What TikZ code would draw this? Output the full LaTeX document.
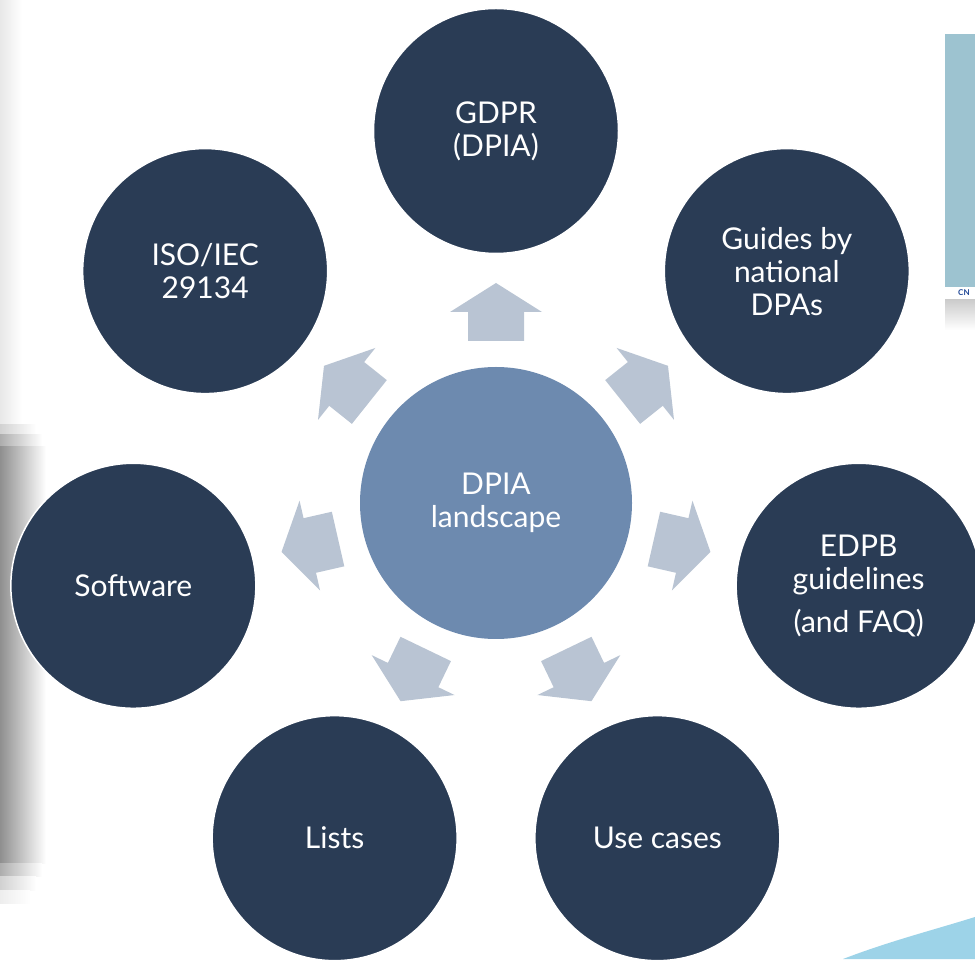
\documentclass[tikz,border=0pt]{standalone}
\usepackage{fontspec}
\setmainfont{Lato}
\usetikzlibrary{calc}
\definecolor{navy}{RGB}{42,60,85}
\definecolor{midblue}{RGB}{109,138,175}
\definecolor{arrowcol}{RGB}{185,196,211}
\definecolor{cardblue}{RGB}{157,195,208}
\definecolor{swooshblue}{RGB}{157,211,232}
\definecolor{cnilblue}{RGB}{30,70,150}
\begin{document}
\begin{tikzpicture}[x=1pt,y=1pt,
  outer/.style={circle, fill=navy, draw=white, line width=1.5pt, minimum size=245pt, inner sep=0pt, align=center, text=white, font=\fontsize{30}{33}\selectfont},
  hub/.style={circle, fill=midblue, minimum size=272pt, inner sep=0pt, align=center, text=white, font=\fontsize{30}{33}\selectfont},
  blockarrow/.style={fill=arrowcol}]
\useasboundingbox (0,0) rectangle (975,959);
% background remnants
\shade[left color=black!9, right color=white] (0,959) rectangle (22,534);
\shade[left color=black!18, right color=white] (0,534) rectangle (36,524);
\shade[left color=black!32, right color=white] (0,524) rectangle (42,512);
\shade[left color=black!44, right color=white] (0,512) rectangle (46,95);
\shade[left color=black!32, right color=white] (0,95) rectangle (42,82);
\shade[left color=black!18, right color=white] (0,82) rectangle (36,68);
\shade[left color=black!7, right color=white] (0,68) rectangle (30,55);
\fill[cardblue] (945,925) rectangle (975,672);
\shade[top color=black!20, bottom color=white] (945,659) rectangle (975,629);
\node[font=\bfseries\fontsize{8}{8}\selectfont, text=cnilblue, anchor=west, inner sep=0pt] (cnil) at (958,666) {CN};
\fill[swooshblue] (843,0) .. controls (890,18) and (930,28) .. (975,42) -- (975,0) -- cycle;
% hub
\node[hub] (dpia) at (496,456) {DPIA\\landscape};
% outer circles
\node[outer] (gdpr) at ($(dpia.center)+(90:372)$) {GDPR\\(DPIA)};
\node[outer] (iso) at ($(dpia.center)+(141.43:372)$) {ISO/IEC\\29134};
\node[outer] (soft) at ($(dpia.center)+(192.86:372)$) {Software};
\node[outer] (lists) at ($(dpia.center)+(244.29:372)$) {Lists};
\node[outer] (uses) at ($(dpia.center)+(295.71:372)$) {Use cases};
\node[outer] (edpb) at ($(dpia.center)+(347.14:372)$) {EDPB\\guidelines\\[10pt](and FAQ)};
\node[outer] (guides) at ($(dpia.center)+(38.57:372)$) {Guides by\\national\\DPAs};
% block arrows
\foreach \k in {0,...,6}{
  \pgfmathsetmacro\ang{90+\k*360/7}
  \fill[blockarrow, shift={(dpia.center)}, rotate=\ang]
    (162,28) -- (191,28) -- (191,46) -- (220,0) -- (191,-46) -- (191,-28) -- (162,-28) -- cycle;
}
\end{tikzpicture}
\end{document}
